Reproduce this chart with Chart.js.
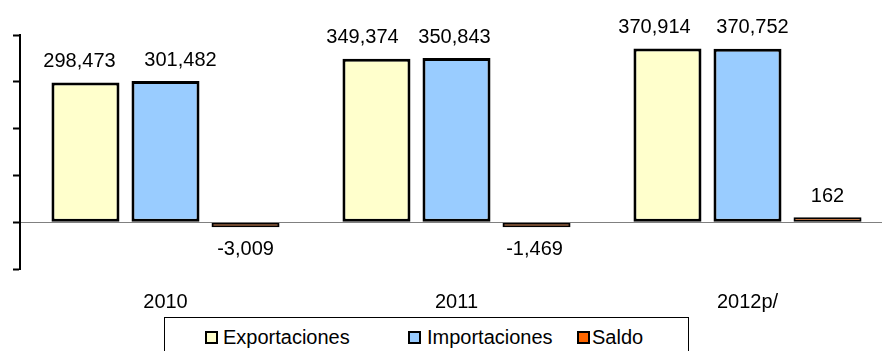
<!DOCTYPE html>
<html>
<head>
<meta charset="utf-8">
<script src="https://cdn.jsdelivr.net/npm/chart.js@4"></script>
<style>
  html, body { margin: 0; padding: 0; background: #fff; overflow: hidden; width: 882px; height: 351px; }
  #wrap { position: relative; width: 882px; height: 351px; overflow: hidden; font-family: "Liberation Sans", Arial, sans-serif; }
  #c { position: absolute; left: 0; top: 0; }
  #title { position: absolute; left: 0; width: 886px; top: -17px; text-align: center; font-size: 20px; line-height: 20px; color: #000; }
  #legend { position: absolute; left: 164px; top: 317px; width: 525px; height: 40px; border: 1px solid #000; box-sizing: border-box; background: #fff; }
  .li { position: absolute; top: 8px; font-size: 20px; line-height: 22px; color: #000; white-space: nowrap; }
  .mk { position: absolute; width: 9px; height: 9px; border: 2px solid #000; }
</style>
</head>
<body>
<div id="wrap">
  <div id="title">Millones de dólares</div>
  <canvas id="c" width="900" height="351" style="width:900px;height:351px"></canvas>
  <div id="legend"></div>
</div>
<script>
const categories = ["2010", "2011", "2012p/"];
const seriesNames = ["Exportaciones", "Importaciones", "Saldo"];
const exportaciones = [298473, 349374, 370914];
const importaciones = [301482, 350843, 370752];
const saldo = [-3009, -1469, 162];
const yTicks = [-100000, 0, 100000, 200000, 300000, 400000];

const colors = ["#FFFFCC", "#99CCFF", "#FF6600"];
const labelDx = [[-6, -14, -13], [15, -2, 5], [0, -2, 0]];

// HTML legend
const legendEl = document.getElementById('legend');
const legendPos = [[40, 58], [243, 262], [412, 427]];
seriesNames.forEach((n, i) => {
  const mk = document.createElement('div');
  mk.className = 'mk';
  mk.style.left = legendPos[i][0] + 'px';
  mk.style.top = '13px';
  mk.style.background = colors[i];
  legendEl.appendChild(mk);
  const t = document.createElement('div');
  t.className = 'li';
  t.style.left = legendPos[i][1] + 'px';
  t.textContent = n;
  legendEl.appendChild(t);
});

const fmt = v => v.toLocaleString('en-US');

const valueLabels = {
  id: 'valueLabels',
  afterDatasetsDraw(chart) {
    const ctx = chart.ctx;
    ctx.save();
    ctx.font = '20px "Liberation Sans", Arial, sans-serif';
    ctx.fillStyle = '#000';
    ctx.textAlign = 'center';
    ctx.textBaseline = 'middle';
    chart.data.datasets.forEach((ds, di) => {
      const meta = chart.getDatasetMeta(di);
      meta.data.forEach((el, i) => {
        const v = ds.data[i];
        const y = v >= 0 ? Math.min(el.y, el.base) - 21 : Math.max(el.y, el.base) + 22;
        ctx.fillText(fmt(v), el.x + labelDx[di][i], y);
      });
    });
    ctx.restore();
  }
};

new Chart(document.getElementById('c'), {
  type: 'bar',
  data: {
    labels: categories,
    datasets: [
      { label: seriesNames[0], data: exportaciones, backgroundColor: colors[0], borderColor: '#000', borderWidth: 3, borderSkipped: false },
      { label: seriesNames[1], data: importaciones, backgroundColor: colors[1], borderColor: '#000', borderWidth: 3, borderSkipped: false },
      { label: seriesNames[2], data: saldo, backgroundColor: colors[2], borderColor: '#000', borderWidth: 2, borderSkipped: false, minBarLength: 5 }
    ]
  },
  options: {
    responsive: false,
    animation: false,
    devicePixelRatio: 1,
    layout: { padding: { left: 13, right: 7, top: 35, bottom: 24 } },
    datasets: { bar: { categoryPercentage: 0.825, barPercentage: 0.85 } },
    plugins: { legend: { display: false }, tooltip: { enabled: false }, title: { display: false } },
    scales: {
      x: {
        grid: { display: false },
        border: { display: false },
        ticks: { color: '#000', padding: 13, font: { size: 20, family: '"Liberation Sans", Arial, sans-serif' } }
      },
      y: {
        min: yTicks[0],
        max: yTicks[yTicks.length - 1],
        afterBuildTicks: scale => { scale.ticks = yTicks.map(v => ({ value: v })); },
        grid: {
          display: true,
          drawOnChartArea: true,
          drawTicks: true,
          tickLength: 7,
          tickColor: '#000',
          tickWidth: 2,
          lineWidth: 1,
          color: ctx => (ctx.tick && ctx.tick.value === 0) ? '#808080' : 'rgba(0,0,0,0)'
        },
        border: { display: true, color: '#000', width: 2 },
        ticks: { display: false }
      }
    }
  },
  plugins: [valueLabels]
});
</script>
</body>
</html>
